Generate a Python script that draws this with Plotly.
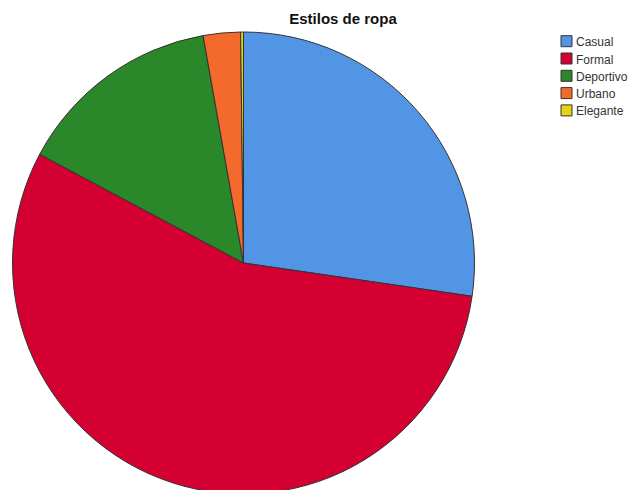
import plotly.graph_objects as go

# Clothing style shares (percent)
categories = ["Casual", "Formal", "Deportivo", "Urbano", "Elegante"]
shares = [27.3, 55.5, 14.4, 2.6, 0.2]
colors = ["#5395E5", "#D50032", "#2A882A", "#F46A2C", "#E5D414"]

W, H = 630, 530

fig = go.Figure(
    go.Pie(
        labels=categories,
        values=shares,
        sort=False,
        direction="clockwise",
        rotation=0,
        textinfo="none",
        hoverinfo="label+percent",
        showlegend=False,
        marker=dict(colors=colors, line=dict(color="#333333", width=1)),
        domain=dict(x=[12 / W, 475 / W], y=[1 - 494 / H, 1 - 32 / H]),
    )
)

# Compact legend: swatch box + label per category
row0, step = 41.2, 17.3
box_x0, box_x1, half = 561, 572, 5.5
for i, (name, col) in enumerate(zip(categories, colors)):
    yc = row0 + i * step
    fig.add_shape(
        type="rect",
        xref="paper", yref="paper",
        x0=box_x0 / W, x1=box_x1 / W,
        y0=1 - (yc - half) / H, y1=1 - (yc + half) / H,
        fillcolor=col,
        line=dict(color="#333333", width=1),
    )
    fig.add_annotation(
        xref="paper", yref="paper",
        x=573.5 / W, y=1 - (yc + 1) / H,
        xanchor="left", yanchor="middle",
        text=name,
        showarrow=False,
        font=dict(family="Arial, Liberation Sans", size=12, color="#333333"),
    )

fig.update_layout(
    width=W,
    height=H,
    margin=dict(l=0, r=0, t=0, b=0, autoexpand=False),
    paper_bgcolor="white",
    plot_bgcolor="white",
    showlegend=False,
    title=dict(
        text="<b>Estilos de ropa</b>",
        x=343 / W,
        xanchor="center",
        y=1 - 19 / H,
        yanchor="middle",
        font=dict(family="Arial, Liberation Sans", size=15, color="#111111"),
    ),
)

fig.write_html("out.html")
